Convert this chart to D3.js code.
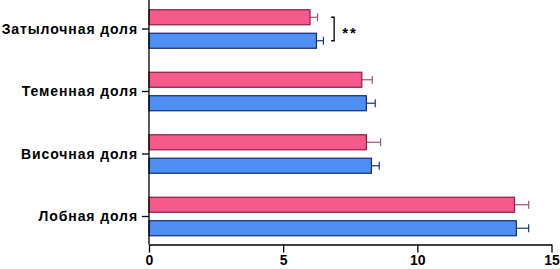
<!DOCTYPE html>
<html>
<head>
<meta charset="utf-8">
<script src="https://cdn.jsdelivr.net/npm/d3@7"></script>
<style>
  html, body { margin: 0; padding: 0; background: #fff; }
  svg { display: block; }
</style>
</head>
<body>
<div id="chart"></div>
<script>
// категории сверху вниз
const categories = ["Затылочная доля", "Теменная доля", "Височная доля", "Лобная доля"];
const seriesNames = ["pink", "blue"];
const pinkValues = [6.0, 7.93, 8.1, 13.62];
const pinkErrors = [0.28, 0.39, 0.53, 0.53];
const blueValues = [6.24, 8.1, 8.29, 13.69];
const blueErrors = [0.26, 0.33, 0.29, 0.46];
const xTicks = [0, 5, 10, 15];

const width = 560, height = 269;
const fontFamily = "Liberation Sans, Arial, sans-serif";

const svg = d3.select("#chart").append("svg")
    .attr("width", width)
    .attr("height", height)
    .attr("viewBox", `0 0 ${width} ${height}`);

const x = d3.scaleLinear().domain([0, 15]).range([149, 551.5]);
const axisY = 244.5;

// полосы категорий
const y = d3.scaleBand()
    .domain(categories)
    .range([-2.25, 247.75]);

const y1 = d3.scaleBand()
    .domain(seriesNames)
    .range([12, 50.5])
    .paddingInner(0.36);

const series = [
    { key: "pink", values: pinkValues, errors: pinkErrors, fill: "#f55a8b", stroke: "#8c1d48", err: "#a8506e" },
    { key: "blue", values: blueValues, errors: blueErrors, fill: "#4f8ff3", stroke: "#13287a", err: "#1f2f80" }
];

series.forEach(s => {
    const g = svg.append("g");
    const rows = categories.map((c, i) => ({ c, v: s.values[i], e: s.errors[i] }));
    const mid = d => y(d.c) + y1(s.key) + y1.bandwidth() / 2;

    // планки погрешностей
    g.selectAll("line.err")
        .data(rows)
        .enter().append("line")
        .attr("x1", d => x(d.v))
        .attr("x2", d => x(d.v + d.e))
        .attr("y1", mid)
        .attr("y2", mid)
        .attr("stroke", s.err)
        .attr("stroke-width", 1.2);
    g.selectAll("line.cap")
        .data(rows)
        .enter().append("line")
        .attr("x1", d => x(d.v + d.e))
        .attr("x2", d => x(d.v + d.e))
        .attr("y1", d => mid(d) - 4)
        .attr("y2", d => mid(d) + 4)
        .attr("stroke", s.err)
        .attr("stroke-width", 1.2);

    g.selectAll("rect")
        .data(rows)
        .enter().append("rect")
        .attr("x", x(0))
        .attr("y", d => y(d.c) + y1(s.key))
        .attr("width", d => x(d.v) - x(0))
        .attr("height", y1.bandwidth())
        .attr("fill", s.fill)
        .attr("stroke", s.stroke)
        .attr("stroke-width", 1.2);
});

// ось X
const xAxis = svg.append("g")
    .attr("transform", `translate(0, ${axisY})`)
    .call(d3.axisBottom(x).tickValues(xTicks).tickSize(8).tickSizeOuter(0).tickPadding(3));
xAxis.select(".domain").attr("stroke", "#000").attr("stroke-width", 1.3);
xAxis.selectAll(".tick line").attr("stroke", "#000").attr("stroke-width", 1.3);
xAxis.selectAll("text")
    .attr("fill", "#000")
    .style("font-family", fontFamily)
    .style("font-size", "14px")
    .style("font-weight", "bold");

// ось Y
svg.append("line")
    .attr("x1", x(0)).attr("x2", x(0))
    .attr("y1", 0).attr("y2", axisY)
    .attr("stroke", "#000").attr("stroke-width", 1.3);

const yTicks = svg.append("g");
yTicks.selectAll("line")
    .data(categories)
    .enter().append("line")
    .attr("x1", x(0) - 7).attr("x2", x(0))
    .attr("y1", d => y(d) + y.bandwidth() / 2)
    .attr("y2", d => y(d) + y.bandwidth() / 2)
    .attr("stroke", "#000").attr("stroke-width", 1.3);
yTicks.selectAll("text")
    .data(categories)
    .enter().append("text")
    .attr("x", x(0) - 11)
    .attr("y", d => y(d) + y.bandwidth() / 2)
    .attr("dy", "0.35em")
    .attr("text-anchor", "end")
    .style("font-family", fontFamily)
    .style("font-size", "14px")
    .style("font-weight", "bold")
    .style("letter-spacing", "0.9px")
    .text(d => d);

// значимость **
const c0 = categories[0];
const topY = y(c0) + y1("pink") + y1.bandwidth() / 2;
const botY = y(c0) + y1("blue") + y1.bandwidth() / 2;
const bx = x(6.9);
svg.append("path")
    .attr("d", `M${bx - 3},${topY} H${bx} V${botY} H${bx - 3}`)
    .attr("fill", "none")
    .attr("stroke", "#000")
    .attr("stroke-width", 1.3);
svg.append("text")
    .attr("x", bx + 8)
    .attr("y", (topY + botY) / 2 + 9)
    .style("font-family", fontFamily)
    .style("font-size", "15px")
    .style("font-weight", "bold")
    .style("letter-spacing", "2px")
    .text("**");
</script>
</body>
</html>
